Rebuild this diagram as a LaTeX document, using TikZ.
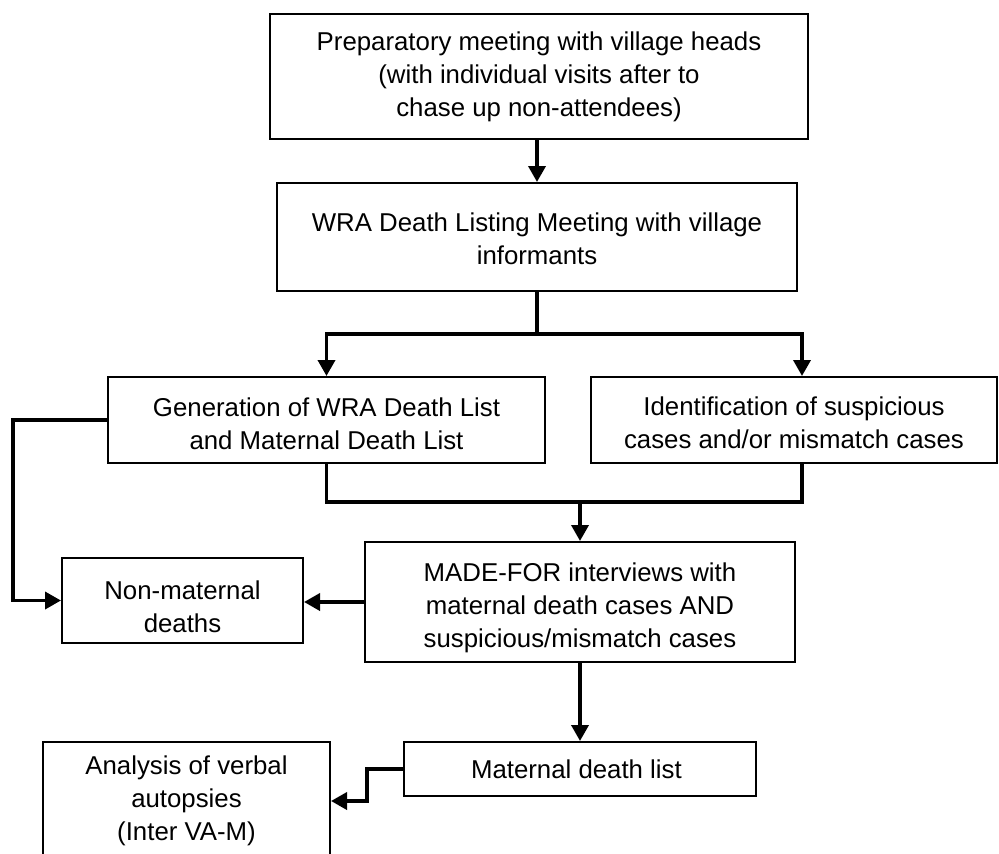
\documentclass[tikz,border=0pt]{standalone}
\usepackage{fontspec}
\setmainfont{Liberation Sans}
\usepackage{tikz}
\usetikzlibrary{arrows.meta}

% taller first line, pushes the text block down a little
\newcommand{\pushdown}[1]{\rule{0pt}{#1}}

\begin{document}
\begin{tikzpicture}[x=1pt,y=-1pt,
            box/.style={rectangle, draw, line width=2pt, align=center, inner sep=0pt, font=\fontsize{25.8}{33}\selectfont},
            arrow/.style={line width=3.6pt, -{Triangle[length=16pt,width=17pt]}},
            line/.style={line width=3.6pt}
        ]
            \useasboundingbox (0,0) rectangle (999,854);

            % Preparatory meeting block
            \node[box, minimum width=538, minimum height=125] (prep) at (539,76.5) {
                Preparatory meeting with village heads\\
                (with individual visits after to\\
                chase up non-attendees)
            };

            % Death listing meeting block
            \node[box, minimum width=520, minimum height=108] (listing) at (537,237) {
                \pushdown{22pt}WRA Death Listing Meeting with village\\
                informants
            };

            % Generation of lists
            \node[box, minimum width=437, minimum height=86] (generation) at (326.5,420) {
                \pushdown{27pt}Generation of WRA Death List\\
                and Maternal Death List
            };

            % Identification of suspicious cases
            \node[box, minimum width=406, minimum height=86] (suspicious) at (794,420) {
                \pushdown{25pt}Identification of suspicious\\
                cases and/or mismatch cases
            };

            % Non-maternal deaths
            \node[box, minimum width=241, minimum height=85] (nonmaternal) at (182.5,600.5) {
                \pushdown{30.5pt}Non-maternal\\
                deaths
            };

            % MADE-FOR interviews
            \node[box, minimum width=430, minimum height=120] (interviews) at (580,602) {
                \pushdown{30.5pt}MADE-FOR interviews with\\
                maternal death cases AND\\
                suspicious/mismatch cases
            };

            % Maternal death list
            \node[box, minimum width=352, minimum height=54] (deathlist) at (580,769) {
                Maternal death list
            };

            % Analysis of verbal autopsies (runs off the bottom edge)
            \node[box, minimum width=287, minimum height=118] (analysis) at (186.5,801) {
                Analysis of verbal\\
                autopsies\\
                (Inter VA-M)
            };

            % Split and merge points
            \coordinate (split) at (537,334);
            \coordinate (merge) at (580,502);

            % Arrows
            \draw[arrow] (listing.north |- prep.south) -- (listing.north);
            \draw[line] (listing.south) -- (split);
            \draw[arrow] (split) -| (generation.north);
            \draw[arrow] (split) -| ([xshift=8pt]suspicious.north);
            \draw[line] (generation.south) |- ([xshift=8pt]suspicious.south |- merge) -- ([xshift=8pt]suspicious.south);
            \draw[arrow] (merge) -- (interviews.north);
            \draw[arrow] (generation.west) -- ++(-94,0) |- (nonmaternal.west);
            \draw[arrow] (interviews.west) -- (nonmaternal.east |- interviews.west);
            \draw[arrow] (interviews.south) -- (deathlist.north);
            \draw[arrow] (deathlist.west) -- ++(-36,0) |- (analysis.east);
        \end{tikzpicture}
\end{document}
